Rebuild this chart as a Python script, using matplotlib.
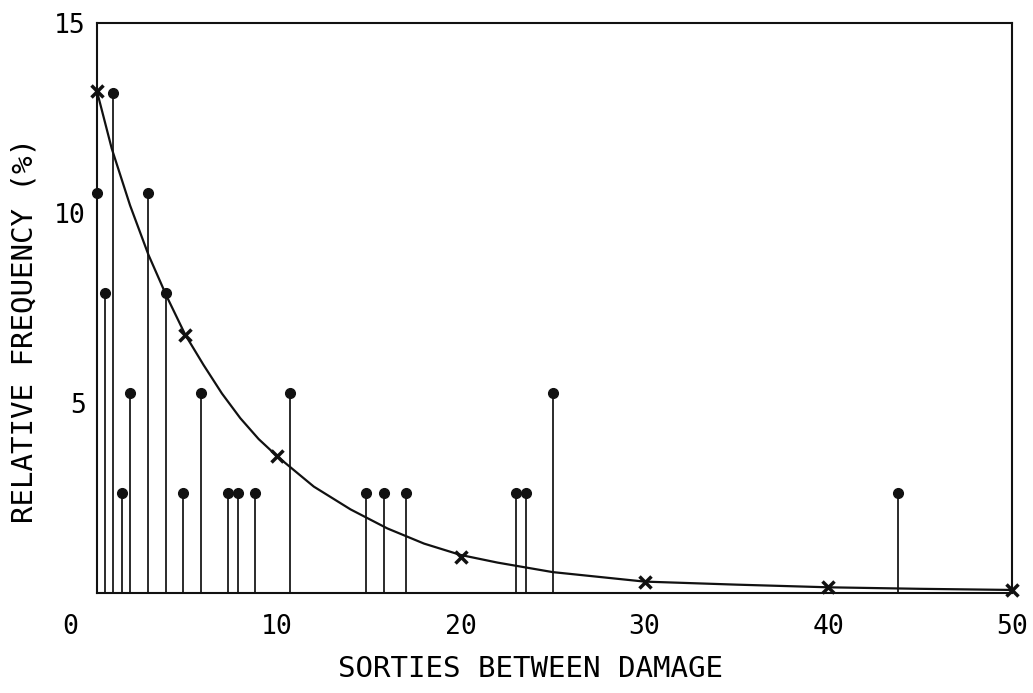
import matplotlib
matplotlib.use("Agg")
import matplotlib.pyplot as plt
from matplotlib.transforms import ScaledTranslation

# Observed relative frequencies (stems with dots)
stem_x = [0.2, 0.64, 1.07, 1.56, 2.0, 2.98, 3.96, 4.88, 5.86, 7.33, 7.88, 8.8,
          10.7, 14.84, 15.82, 17.02, 23.0, 23.55, 25.0, 43.8]
stem_y = [10.53, 7.89, 13.16, 2.63, 5.26, 10.53, 7.89, 2.63, 5.26, 2.63, 2.63, 2.63,
          5.26, 2.63, 2.63, 2.63, 2.63, 2.63, 5.26, 2.63]

# Fitted curve
curve_x = [0.2, 1, 2, 3, 4, 5, 6, 7, 8, 9, 10, 12, 14, 16, 18, 20, 22, 25, 30, 35, 40, 45, 50]
curve_y = [13.2, 11.7, 10.2, 8.9, 7.8, 6.8, 6.0, 5.25, 4.6, 4.05, 3.6, 2.8, 2.2, 1.7,
           1.3, 1.0, 0.8, 0.55, 0.3, 0.22, 0.15, 0.11, 0.08]

# Cross markers on the curve
cross_x = [0.2, 5, 10, 20, 30, 40, 50]
cross_y = [13.2, 6.8, 3.6, 0.95, 0.3, 0.15, 0.08]

x_ticks = [0.2, 10, 20, 30, 40, 50]
x_ticklabels = ["0", "10", "20", "30", "40", "50"]
y_ticks = [5, 10, 15]
y_ticklabels = ["5", "10", "15"]

plt.rcParams['font.family'] = ['DejaVu Sans Mono', 'DejaVu Sans']

fig = plt.figure(figsize=(10.33, 6.93), dpi=100)
ax = fig.add_axes([97 / 1033, 100 / 693, (1012 - 97) / 1033, (593 - 23) / 693])

ax.vlines(stem_x, 0, stem_y, colors='#1a1a1a', linewidth=1.3)
ax.plot(stem_x, stem_y, 'o', color='#111111', markersize=7, clip_on=False)

ax.plot(curve_x, curve_y, '-', color='#111111', linewidth=1.6)
ax.plot(cross_x, cross_y, 'x', color='#111111', markersize=9, markeredgewidth=2.5,
        clip_on=False)

ax.set_xlim(0.2, 50)
ax.set_ylim(0, 15)

ax.set_xticks(x_ticks)
ax.set_xticklabels(x_ticklabels, fontsize=19)
ax.set_yticks(y_ticks)
ax.set_yticklabels(y_ticklabels, fontsize=19)
ax.tick_params(length=0)
ax.tick_params(axis='x', pad=15)
ax.tick_params(axis='y', pad=8)

# shift the "0" label left as in the original
lbl0 = ax.get_xticklabels()[0]
lbl0.set_transform(lbl0.get_transform() + ScaledTranslation(-27 / 100, 0, fig.dpi_scale_trans))

for s in ax.spines.values():
    s.set_linewidth(1.5)
    s.set_color('#111111')

ax.set_xlabel("SORTIES BETWEEN DAMAGE", fontsize=21)
ax.xaxis.set_label_coords(0.474, -0.108)
ax.set_ylabel("RELATIVE FREQUENCY (%)", fontsize=21)
ax.yaxis.set_label_coords(-0.064, 0.46)

fig.savefig("out.png", dpi=100)
